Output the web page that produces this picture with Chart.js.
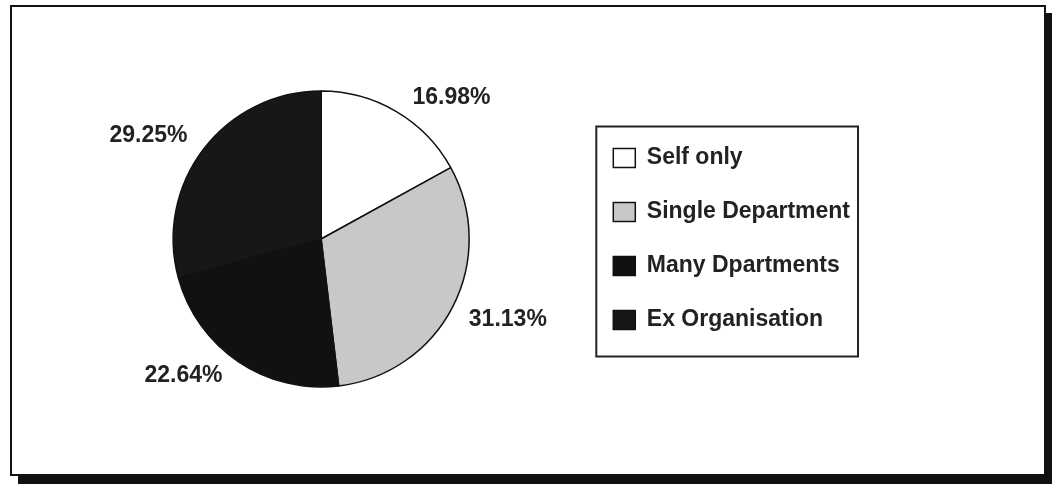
<!DOCTYPE html>
<html>
<head>
<meta charset="utf-8">
<script src="https://cdn.jsdelivr.net/npm/chart.js@4"></script>
<style>
  body { margin: 0; background: #fff; }
  #frame {
    position: absolute; left: 10px; top: 5px;
    width: 1032px; height: 467px;
    border: 2px solid #111;
    box-shadow: 8px 8px 0 #111;
    background: #fff;
  }
  canvas { display: block; }
</style>
</head>
<body>
<div id="frame"><canvas id="PieChart" width="1032" height="467"></canvas></div>
<script>
// data
const Groups = ['Self only', 'Single Department', 'Many Dpartments', 'Ex Organisation'];
const Shares = [16.98, 31.13, 22.64, 29.25];
const Fills = ['#ffffff', '#c8c8c8', '#111111', '#171717'];

const labelFont = 'bold 23px "Liberation Sans", Arial, sans-serif';

// percentage labels outside the slices
const pctLabels = {
  id: 'pctLabels',
  afterDatasetsDraw(chart) {
    const ctx = chart.ctx;
    const meta = chart.getDatasetMeta(0);
    ctx.save();
    ctx.font = labelFont;
    ctx.fillStyle = '#222';
    ctx.textAlign = 'center';
    ctx.textBaseline = 'middle';
    meta.data.forEach((arc, i) => {
      const p = arc.getProps(['x', 'y', 'startAngle', 'endAngle', 'outerRadius']);
      const mid = (p.startAngle + p.endAngle) / 2;
      const dx = Math.cos(mid), dy = Math.sin(mid);
      const text = Shares[i].toFixed(2) + '%';
      const w = ctx.measureText(text).width;
      const x = p.x + p.outerRadius * dx + Math.sign(dx) * (w / 2 + 16);
      const y = p.y + p.outerRadius * dy + Math.sign(dy) * 13.5;
      ctx.fillText(text, x, y);
    });
    ctx.restore();
  }
};

// box round the legend
const legendFrame = {
  id: 'legendFrame',
  afterDraw(chart) {
    const boxes = chart.legend.legendHitBoxes;
    if (!boxes || !boxes.length) return;
    const ctx = chart.ctx;
    const left = Math.min(...boxes.map(b => b.left)) - 17;
    const right = Math.max(...boxes.map(b => b.left + b.width)) + 8;
    const top = boxes[0].top - 20;
    const last = boxes[boxes.length - 1];
    const bottom = last.top + last.height + 25;
    ctx.save();
    ctx.strokeStyle = '#222';
    ctx.lineWidth = 2;
    ctx.strokeRect(left, top, right - left, bottom - top);
    ctx.restore();
  }
};

const PieData = {
  labels: Groups,
  datasets: [{
    data: Shares,
    backgroundColor: Fills,
    borderColor: '#111',
    borderWidth: 1.5,
    radius: 148
  }]
};

const PieConfig = {
  type: 'pie',
  data: PieData,
  options: {
    responsive: false,
    animation: false,
    events: [],
    layout: { padding: { left: 48, right: 184, top: 0, bottom: 3 } },
    plugins: {
      tooltip: { enabled: false },
      legend: {
        position: 'right',
        labels: {
          boxWidth: 22,
          boxHeight: 19,
          padding: 31,
          color: '#222',
          font: { family: '"Liberation Sans", Arial, sans-serif', size: 23, weight: 'bold' }
        }
      }
    }
  },
  plugins: [pctLabels, legendFrame]
};

const PieChart = new Chart(document.getElementById('PieChart'), PieConfig);
</script>
</body>
</html>
